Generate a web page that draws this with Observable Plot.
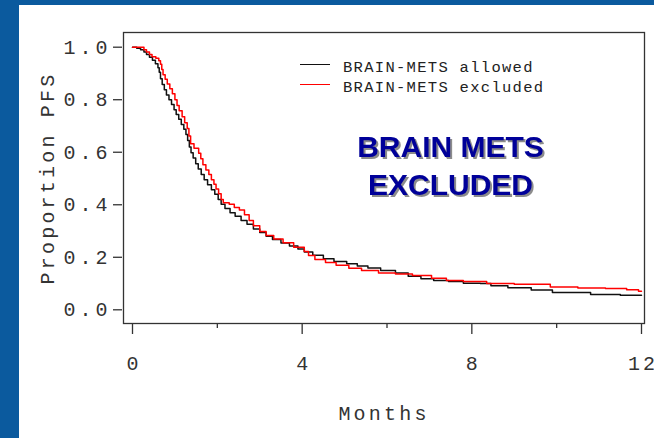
<!DOCTYPE html>
<html>
<head>
<meta charset="utf-8">
<script src="https://cdn.jsdelivr.net/npm/d3@7"></script>
<script src="https://cdn.jsdelivr.net/npm/@observablehq/plot@0.6"></script>
<style>
  html, body { margin: 0; padding: 0; background: #0b5a9e; }
  #wrap { position: relative; width: 654px; height: 438px; overflow: hidden; }
  #panel { position: absolute; left: 19px; top: 5px; right: 0; bottom: 0; background: #ffffff; }
  #chart { position: absolute; left: 0; top: 0; }
  #chart svg { background: transparent; }
  g[aria-label="y-axis tick label"] text { letter-spacing: 4px; }
  g[aria-label="y-axis label"] text,
  g[aria-label="x-axis label"] text { letter-spacing: 3.2px; }
  #legend { position: absolute; left: 300px; top: 58px; font-family: "Liberation Mono", monospace;
            font-size: 15.5px; letter-spacing: 1.3px; color: #222; }
  #legend .row { display: flex; align-items: center; height: 20px; }
  #legend .sw { width: 30px; height: 0; border-top: 1.6px solid; margin-right: 13px; margin-top: -7px; }
</style>
</head>
<body>
<div id="wrap">
  <div id="panel"></div>
  <div id="chart"></div>
  <div id="legend"></div>
</div>
<script>
// Kaplan–Meier progression-free survival, by trial eligibility rule
const seriesNames = ["BRAIN-METS allowed", "BRAIN-METS excluded"];
const seriesColors = ["#111111", "#ff0000"];

const allowedMonths = [0, 0.10, 0.19, 0.27, 0.33, 0.40, 0.47, 0.54, 0.60, 0.63, 0.66, 0.70, 0.75, 0.80, 0.86,
  0.92, 0.98, 1.03, 1.09, 1.15, 1.21, 1.26, 1.30, 1.34, 1.38, 1.43, 1.49, 1.55, 1.62, 1.69, 1.77, 1.86,
  1.94, 2.02, 2.09, 2.18, 2.30, 2.42, 2.56, 2.70, 2.85, 3.00, 3.15, 3.30, 3.50, 3.70, 3.90, 4.05, 4.25,
  4.50, 4.75, 5.05, 5.30, 5.55, 5.85, 6.20, 6.50, 6.80, 7.10, 7.45, 7.80, 8.20, 8.45, 8.85, 9.40, 9.90,
  10.80, 11.50, 12.00];
const allowedPFS = [1.000, 0.996, 0.990, 0.982, 0.972, 0.962, 0.950, 0.937, 0.922, 0.905, 0.880, 0.858, 0.838,
  0.818, 0.800, 0.782, 0.762, 0.744, 0.726, 0.706, 0.688, 0.668, 0.645, 0.620, 0.598, 0.578, 0.556, 0.536,
  0.515, 0.495, 0.476, 0.457, 0.440, 0.420, 0.402, 0.386, 0.370, 0.356, 0.340, 0.326, 0.308, 0.294, 0.280,
  0.268, 0.254, 0.243, 0.232, 0.220, 0.208, 0.194, 0.184, 0.175, 0.167, 0.159, 0.150, 0.140, 0.128, 0.118,
  0.112, 0.108, 0.101, 0.100, 0.092, 0.084, 0.075, 0.066, 0.058, 0.055, 0.055];

const excludedMonths = [0, 0.23, 0.27, 0.33, 0.40, 0.46, 0.55, 0.62, 0.66, 0.69, 0.72, 0.77, 0.82, 0.88, 0.94,
  1.00, 1.05, 1.10, 1.17, 1.23, 1.29, 1.33, 1.37, 1.45, 1.56, 1.61, 1.66, 1.73, 1.80, 1.86, 1.92, 1.97,
  2.03, 2.09, 2.14, 2.28, 2.40, 2.52, 2.64, 2.75, 2.85, 3.00, 3.15, 3.33, 3.55, 3.80, 4.05, 4.15, 4.30,
  4.55, 4.80, 5.10, 5.40, 5.80, 6.20, 6.60, 7.05, 7.40, 7.80, 8.35, 9.00, 9.85, 10.50, 11.15, 11.65,
  11.93, 12.00];
const excludedPFS = [1.000, 1.000, 0.990, 0.982, 0.972, 0.964, 0.958, 0.948, 0.935, 0.915, 0.895, 0.878, 0.860,
  0.842, 0.823, 0.800, 0.778, 0.758, 0.735, 0.712, 0.690, 0.662, 0.632, 0.615, 0.596, 0.575, 0.552, 0.532,
  0.515, 0.495, 0.478, 0.460, 0.442, 0.420, 0.408, 0.402, 0.390, 0.380, 0.362, 0.340, 0.320, 0.298, 0.283,
  0.270, 0.255, 0.238, 0.222, 0.207, 0.192, 0.180, 0.170, 0.158, 0.150, 0.140, 0.136, 0.131, 0.120, 0.112,
  0.108, 0.100, 0.097, 0.087, 0.083, 0.081, 0.076, 0.071, 0.071];

const xMajorTicks = [0, 4, 8, 12];
const xMinorTicks = [2, 6, 10];
const yTicks = [0, 0.2, 0.4, 0.6, 0.8, 1.0];
const noteLines = ["BRAIN METS", "EXCLUDED"];

const curves = [
  ...allowedMonths.map((t, i) => ({t, s: allowedPFS[i], group: seriesNames[0]})),
  ...excludedMonths.map((t, i) => ({t, s: excludedPFS[i], group: seriesNames[1]}))
];

const mono = "'Liberation Mono', 'DejaVu Sans Mono', monospace";
const noteFont = "'Liberation Sans', Arial, sans-serif";

// One text mark per line of the note, anchored to the frame's top-left corner
const noteMark = (line, offsetY) => Plot.text([line], {
  text: d => d, frameAnchor: "top-left", dx: 327, dy: offsetY,
  fill: "#000099", fontFamily: noteFont, fontWeight: "bold", fontSize: 30,
  textAnchor: "middle", lineAnchor: "middle"
});

const chart = Plot.plot({
  width: 654,
  height: 438,
  marginLeft: 123,
  marginRight: 10,
  marginTop: 32,
  marginBottom: 115,
  style: {fontFamily: mono, color: "#333", background: "transparent", overflow: "visible"},
  x: {domain: [0, 12], insetLeft: 9, insetRight: 3},
  y: {domain: [0, 1], insetTop: 14.7, insetBottom: 13.7},
  color: {domain: seriesNames, range: seriesColors},
  marks: [
    Plot.frame({stroke: "#333", strokeWidth: 1.3}),
    Plot.axisY(yTicks, {
      tickSize: 9, tickPadding: 2, fontSize: 20, tickFormat: d3.format(".1f"),
      stroke: "#333", strokeWidth: 1.3, dx: -1,
      label: "Proportion PFS", labelAnchor: "center", labelArrow: "none", labelOffset: 84
    }),
    Plot.axisX(xMajorTicks, {
      tickSize: 11, tickPadding: 21, fontSize: 20, tickFormat: d => String(d),
      stroke: "#333", strokeWidth: 1.3,
      label: "Months", labelAnchor: "center", labelArrow: "none", labelOffset: 96
    }),
    Plot.axisX(xMinorTicks, {tickSize: 5, stroke: "#333", strokeWidth: 1.3, tickFormat: () => "", label: null}),
    Plot.line(curves, {x: "t", y: "s", z: "group", stroke: "group", curve: "step-after", strokeWidth: 1.5}),
    noteMark(noteLines[0], 115),
    noteMark(noteLines[1], 153)
  ]
});
// Navy note text gets a grey drop shadow
d3.select(chart).selectAll('g[aria-label="text"]')
  .style("filter", "drop-shadow(2px 2px 0 #8c8c8c)");
// Wide-set digits on multi-character month labels, without trailing space
d3.select(chart).selectAll('g[aria-label="x-axis tick label"] text')
  .filter(function() { return this.textContent.length > 1; })
  .attr("textLength", function() { return (this.textContent.length - 1) * 15 + 12; })
  .attr("lengthAdjust", "spacing");
document.getElementById("chart").appendChild(chart);

// Line-swatch legend for the two curves
const legend = d3.select("#legend");
seriesNames.forEach((name, i) => {
  const row = legend.append("div").attr("class", "row");
  row.append("span").attr("class", "sw").style("border-top-color", seriesColors[i]);
  row.append("span").text(name);
});
</script>
</body>
</html>
